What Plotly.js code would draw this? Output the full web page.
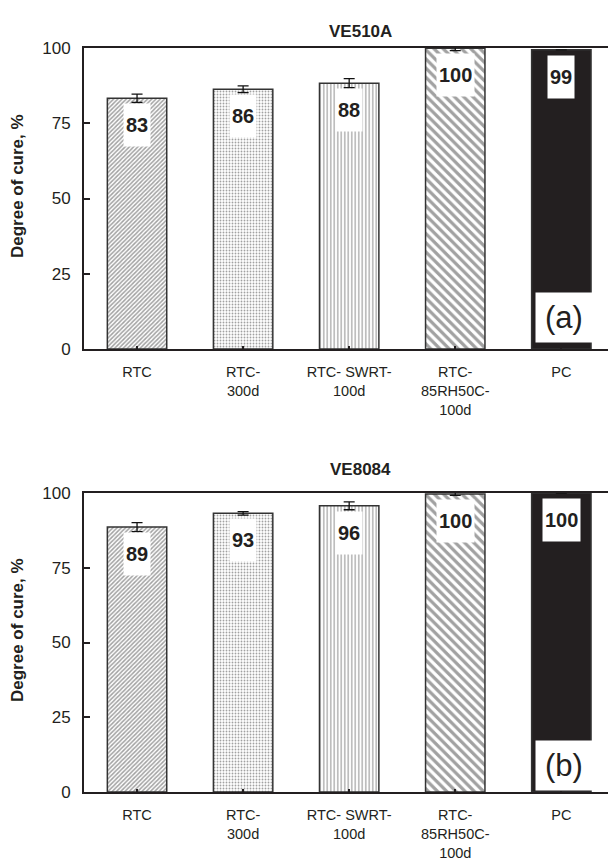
<!DOCTYPE html>
<html>
<head>
<meta charset="utf-8">
<script src="https://cdn.plot.ly/plotly-3.0.1.min.js"></script>
<style>html,body{margin:0;padding:0;background:#fff;}#chart{width:608px;height:865px;}</style>
</head>
<body>
<div id="chart"></div>
<script>
// ---- data ----
const categories = ["RTC", "RTC-<br>300d", "RTC- SWRT-<br>100d", "RTC-<br>85RH50C-<br>100d", "PC"];
const panelTitles = ["VE510A", "VE8084"];
const panelTags = ["(a)", "(b)"];
const valuesA = [83.3, 86.3, 88.3, 99.9, 99.4];
const errorsA = [1.4, 1.1, 1.5, 0.8, 0];
const labelsA = ["83", "86", "88", "100", "99"];
const valuesB = [88.6, 93.2, 95.7, 99.7, 100];
const errorsB = [1.5, 0.6, 1.3, 0.5, 0];
const labelsB = ["89", "93", "96", "100", "100"];
const yTicks = [0, 25, 50, 75, 100];
const yTitle = "Degree of cure, %";

// ---- styling ----
const FONT = "Liberation Sans, Arial, sans-serif";
const INK = "#231f20";
const W = 608, H = 865, L = 84;
const pattern = {
  shape: ["/", ".", "|", "\\", ""],
  fgcolor: ["#000", "#999", "#000", "#000", INK],
  bgcolor: ["#fff", "#fff", "#fff", "#fff", INK],
  size: [3, 3, 3.5, 6.5, 8],
  solidity: [0.5, 0.3, 0.35, 0.5, 0.3],
  fillmode: "overlay"
};
const py = px => 1 - px / H;
const ppx = px => (px - L) / (W - L);

function barTrace(vals, errs, xa, ya) {
  return {
    type: "bar", x: categories, y: vals, xaxis: xa, yaxis: ya,
    width: 0.56,
    marker: { color: ["#fff", "#fff", "#fff", "#fff", INK], pattern: pattern,
              line: { color: "#333", width: 1.5 } },
    error_y: { type: "data", array: errs, visible: true, color: "#111", thickness: 1.3, width: 5.5 },
    hoverinfo: "skip", showlegend: false
  };
}

const data = [barTrace(valuesA, errorsA, "x", "y"), barTrace(valuesB, errorsB, "x2", "y2")];

function xax(anchor) {
  return {
    anchor: anchor, domain: [0, 1], type: "category", range: [-0.5, 4.44],
    showline: true, linewidth: 2, linecolor: INK, mirror: true,
    ticks: "inside", ticklen: 3, tickwidth: 2, tickcolor: INK,
    tickfont: { family: FONT, size: 14.5, color: INK },
    ticklabelstandoff: 9,
    showgrid: false, zeroline: false, fixedrange: true
  };
}
function yax(anchor, dom) {
  return {
    anchor: anchor, domain: dom, range: [0, 100],
    tickvals: yTicks, ticktext: yTicks.map(String),
    showline: true, linewidth: 2, linecolor: INK,
    ticks: "inside", ticklen: 6, tickwidth: 2, tickcolor: INK,
    tickfont: { family: FONT, size: 17, color: INK },
    ticklabelstandoff: 8,
    showgrid: false, zeroline: false, fixedrange: true
  };
}

const annotations = [];
const panels = [
  { vals: valuesA, labels: labelsA, xr: "x", yr: "y", titleY: 31, yTitleY: 186, tagY: 318 },
  { vals: valuesB, labels: labelsB, xr: "x2", yr: "y2", titleY: 469, yTitleY: 630, tagY: 765 }
];
panels.forEach((p, k) => {
  annotations.push({ xref: "paper", yref: "paper", x: ppx(360), y: py(p.titleY),
    text: "<b>" + panelTitles[k] + "</b>", showarrow: false, xanchor: "center", yanchor: "middle",
    font: { family: FONT, size: 17, color: INK } });
  annotations.push({ xref: "paper", yref: "paper", x: ppx(17), y: py(p.yTitleY),
    text: "<b>" + yTitle + "</b>", textangle: -90, showarrow: false, xanchor: "center", yanchor: "middle",
    font: { family: FONT, size: 17, color: INK } });
  p.vals.forEach((v, i) => {
    annotations.push({ xref: p.xr, yref: p.yr, x: categories[i], y: v, yshift: -27,
      text: "<b>" + p.labels[i] + "</b>", showarrow: false, xanchor: "center", yanchor: "middle",
      bgcolor: "#fff", borderpad: 2, height: 38,
      font: { family: FONT, size: 20, color: INK } });
  });
  annotations.push({ xref: p.xr, yref: "paper", x: categories[4], xshift: 3, y: py(p.tagY),
    text: panelTags[k], showarrow: false, xanchor: "center", yanchor: "middle",
    bgcolor: "#fff", borderpad: 0, width: 56, height: 49,
    font: { family: FONT, size: 31, color: INK } });
});

const layout = {
  width: W, height: H,
  margin: { l: L, r: 0, t: 0, b: 0 },
  paper_bgcolor: "#fff", plot_bgcolor: "#fff",
  bargap: 0.44,
  xaxis: xax("y"), yaxis: yax("x", [py(349), py(48)]),
  xaxis2: xax("y2"), yaxis2: yax("x2", [py(792), py(493)]),
  annotations: annotations,
  font: { family: FONT, color: INK }
};

Plotly.newPlot("chart", data, layout, { displayModeBar: false, staticPlot: true });
</script>
</body>
</html>
